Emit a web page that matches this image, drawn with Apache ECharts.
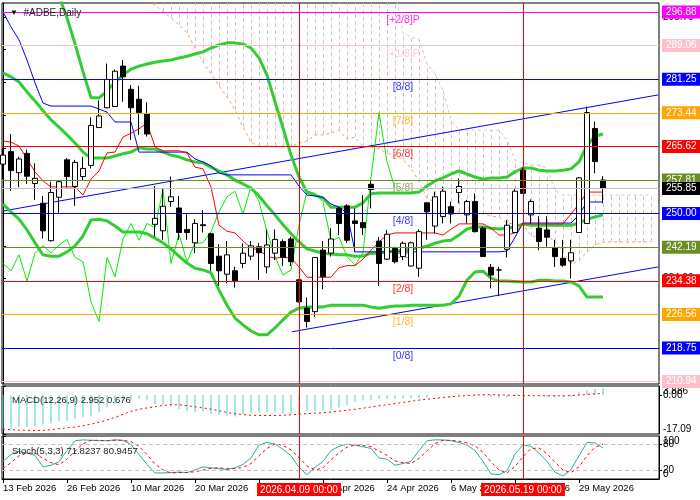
<!DOCTYPE html>
<html>
<head>
<meta charset="utf-8">
<script src="https://cdn.jsdelivr.net/npm/echarts@6/dist/echarts.min.js"></script>
<style>
html,body{margin:0;padding:0;background:#fff}
#chart{width:700px;height:500px}
</style>
</head>
<body>
<div id="chart"></div>
<script>
// daily bars, index 0 = 13 Feb 2026
var opens  = [261.5,264.4,259.5,264.0,257.0,252.4,243.7,253.8,262.5,256.3,258.6,261.2,270.0,274.6,274.9,284.3,278.9,276.6,273.2,247.5,246.0,252.8,251.3,246.3,243.2,247.4,245.3,240.1,235.9,236.7,238.4,240.1,242.3,237.6,240.8,243.5,244.1,234.6,228.0,227.2,241.5,240.8,251.2,251.8,248.3,247.9,256.8,243.6,239.4,241.9,240.0,237.8,237.3,252.5,247.1,249.3,251.6,254.9,249.7,252.8,246.6,237.5,236.9,241.7,245.6,260.1,249.7,246.6,246.2,242.1,239.6,239.0,245.6,247.7,269.8,257.8];
var closes = [263.6,260.0,262.7,258.7,258.2,246.0,254.9,257.4,258.6,261.9,260.5,270.5,272.7,281.2,283.1,281.8,274.6,273.5,268.5,248.9,251.7,253.9,245.6,245.6,247.7,247.2,238.4,236.7,240.4,234.3,240.8,242.5,240.9,242.7,244.0,239.8,238.8,229.5,224.9,239.8,235.3,244.1,247.7,243.8,247.7,246.7,255.6,238.4,245.2,238.8,243.1,243.2,245.8,250.4,253.9,255.2,249.9,256.3,252.8,245.8,240.0,235.7,236.9,247.3,255.2,254.7,252.8,243.5,244.5,240.0,238.0,240.9,258.3,273.5,262.1,255.85];
var lows   = [258.0,255.3,256.1,256.9,253.2,244.2,243.5,250.2,256.1,251.8,257.7,260.5,269.9,274.5,274.8,276.0,267.1,268.3,267.9,244.6,243.9,251.6,243.9,243.9,240.8,245.6,236.7,233.2,233.8,232.8,237.3,239.2,234.6,236.1,239.2,237.8,237.8,229.3,223.5,226.0,232.4,240.0,245.0,243.2,241.1,245.0,251.2,233.1,239.2,238.4,239.2,237.7,235.3,243.9,245.4,247.7,247.7,252.4,247.7,245.6,239.9,232.6,230.8,239.8,245.5,254.6,247.7,241.5,242.3,237.6,237.6,234.9,245.5,247.7,259.4,252.4];
var highs  = [265.2,268.5,263.2,264.9,261.7,254.1,257.4,257.6,262.9,262.5,263.2,272.4,276.3,284.9,283.5,285.7,279.9,279.7,275.9,256.4,255.9,258.6,254.1,250.1,248.7,250.8,245.5,242.9,243.6,237.6,243.1,243.6,243.2,246.3,246.3,244.0,244.6,234.8,230.5,239.9,243.6,246.6,251.6,252.2,251.2,254.3,257.8,244.6,246.2,242.3,243.5,243.5,246.3,252.6,255.1,256.3,252.8,258.2,253.2,254.7,247.0,238.3,237.6,248.5,255.9,260.7,253.3,249.4,249.4,243.9,243.9,243.9,258.5,274.9,271.4,258.7];

// Bollinger bands
var bbUpper = [null,null,null,null,null,null,306.0,300.5,295.5,289.5,283.0,277.0,276.9,278.5,280.6,282.2,283.6,284.3,284.8,285.2,285.5,285.7,286.2,286.6,287.1,287.6,288.5,289.2,289.7,289.7,289.4,288.5,286.2,282.2,276.0,269.9,263.6,258.5,255.0,254.3,253.6,251.5,251.5,251.5,251.5,252.5,254.6,254.8,254.8,254.8,254.8,254.8,255.0,256.4,257.6,258.3,259.2,259.9,259.2,258.5,258.0,258.3,258.3,258.5,259.7,260.6,260.6,260.1,259.9,259.9,260.1,260.4,262.0,265.9,268.0,268.5];
var bbMiddle = [282.7,281.8,280.6,278.3,276.2,273.9,271.8,270.1,268.3,266.4,264.3,262.9,262.9,262.9,263.4,263.9,264.3,265.3,265.0,265.0,264.3,263.6,263.2,262.5,262.0,261.8,260.8,259.9,259.0,257.8,256.9,255.9,254.1,251.8,249.7,247.4,245.3,243.4,241.8,241.3,240.8,240.6,240.4,240.4,240.1,240.1,240.8,240.8,241.1,241.3,241.5,241.8,242.0,242.4,243.1,243.6,243.8,245.0,246.4,246.9,246.9,246.6,246.4,246.6,246.9,247.6,247.3,247.3,247.3,247.3,247.3,247.3,247.8,248.7,249.2,249.7];
var bbLower = [252.2,250.4,248.7,246.2,243.2,240.4,240.1,240.1,241.1,242.5,244.8,248.5,248.7,248.3,247.1,245.7,245.7,245.7,245.3,244.3,243.2,241.8,240.1,238.5,237.3,236.9,236.2,232.2,228.7,225.7,224.1,222.7,221.8,221.8,223.4,225.3,227.1,228.0,228.3,228.3,228.3,228.7,228.7,228.7,228.7,228.7,228.3,228.0,228.3,228.5,228.5,228.7,228.7,228.7,228.7,228.7,229.0,230.8,234.5,236.4,236.6,235.0,234.3,234.3,234.2,234.1,234.1,234.5,234.5,234.3,234.3,234.1,233.2,230.6,230.6,230.6];

// Ichimoku
var tenkan = [266.9,266.6,265.7,262.7,259.7,257.6,256.2,256.2,256.2,256.2,254.3,258.0,259.9,264.1,264.3,267.8,268.7,269.7,271.1,265.5,264.6,264.6,264.6,264.1,260.8,260.4,256.2,247.3,245.9,245.5,243.6,242.0,241.5,240.1,239.6,239.9,239.6,237.6,235.2,235.2,235.2,235.2,237.4,237.9,237.9,239.4,241.5,243.4,245.0,245.5,245.5,245.5,245.5,245.5,245.5,245.0,246.4,247.6,247.6,247.6,247.6,246.6,245.0,245.0,245.5,247.6,247.6,247.6,247.6,247.6,247.6,249.9,252.2,255.0,255.0,255.0];
var kijun = [296.9,293.4,290.4,285.7,280.4,275.7,275.0,275.0,275.0,275.0,275.0,275.0,274.3,273.6,271.3,271.3,271.3,264.3,264.3,264.3,264.3,264.3,264.3,264.3,262.7,262.0,261.1,259.4,259.0,259.0,259.0,259.0,259.0,259.0,259.0,259.0,259.0,256.4,254.3,254.1,253.8,252.2,251.5,250.1,241.1,241.1,241.1,241.1,241.1,241.1,241.1,241.1,241.1,241.1,241.1,241.1,241.1,241.1,241.1,241.1,241.1,241.1,241.1,241.3,244.5,247.8,247.8,247.8,247.8,247.8,247.8,247.8,249.7,252.7,252.7,252.7];
var senkouA = [null,null,null,null,null,null,null,null,null,null,null,null,null,null,null,null,null,null,299.5,298.5,296.9,295.5,293.9,292.0,288.5,285.2,282.5,279.7,277.1,274.1,270.1,266.6,265.7,265.7,265.7,265.5,265.5,266.4,266.9,268.3,268.3,268.7,269.4,267.3,267.8,265.5,265.5,265.0,264.1,263.4,262.5,260.6,257.4,253.6,252.7,252.0,251.1,250.4,250.1,250.1,249.9,249.4,249.2,247.8,247.6,247.6,244.8,244.6,244.6,243.6,241.1,238.3,239.0,241.1,242.7,243.4,243.4,243.4,243.4,243.4,243.4,243.4];
var senkouB = [null,null,null,null,null,null,null,null,null,null,null,null,null,null,null,null,null,null,null,302,302,302,302,302,302,302,302,302,302,302,302,302,302,302,302,302,302,302,302,302,302,302,302,302,302,302,302,302,302,302,292.0,291.1,290.4,284.8,282.5,278.5,271.8,269.4,269.4,269.4,269.4,269.4,269.4,267.1,262.5,261.8,261.3,261.3,260.6,255.5,254.3,254.3,254.3,254.3,254.3,254.3,254.3,254.3,254.3,254.3,254.3,254.3];
var chikouShift = 26;

// MACD(12,26,9)
var macdMain = [-14.9,-14.9,-13.9,-13.9,-13.5,-13.0,-12.4,-11.6,-11.3,-10.5,-9.8,-9.4,-7.6,-5.4,-4.0,-2.5,-2.2,-1.9,-2.1,-4.0,-4.4,-5.1,-6.2,-7.2,-7.6,-7.3,-8.1,-8.7,-9.1,-9.4,-8.4,-8.1,-7.6,-7.6,-7.6,-8.1,-8.4,-8.7,-7.0,-7.1,-6.9,-6.5,-5.5,-4.5,-3.0,-2.5,-2.3,-1.9,-1.9,-1.8,-1.6,-1.4,-1.4,-1.0,-0.4,0.0,0.1,0.3,0.2,-0.3,-0.6,-1.0,-1.2,-1.0,-0.5,-0.2,-0.3,-0.5,-0.7,-1.0,-1.1,-0.8,1.2,2.0,2.6,2.952];
var macdSignal = [-14.9,-15.2,-15.4,-15.5,-15.6,-15.5,-15.2,-14.8,-14.4,-14.0,-13.5,-12.8,-12.0,-11.0,-9.8,-8.5,-7.2,-6.3,-5.7,-5.2,-4.6,-4.3,-4.3,-4.7,-5.2,-5.7,-6.2,-6.9,-7.6,-8.2,-8.6,-8.9,-9.0,-9.0,-9.0,-8.9,-8.7,-8.4,-8.2,-8.0,-7.8,-7.5,-7.1,-6.7,-6.3,-5.8,-5.3,-4.8,-4.3,-3.8,-3.3,-2.8,-2.3,-1.9,-1.5,-1.1,-0.8,-0.5,-0.3,-0.1,0.1,0.1,0.0,-0.1,-0.2,-0.3,-0.3,-0.4,-0.4,-0.4,-0.4,-0.3,-0.1,0.2,0.45,0.676];
var macdRange = [-17.09, 3.886];
var macdRangeLabels = ['-17.09', '3.886'];
var macdZero = [0];

// Stochastic(5,3,3)
var stochK = [41,57,64,60,55,28,32,40,66,89,91,90,89,89,91,90,80,57,34,14,14,15,16,15,21,28,26,24,22,26,34,49,79,85,81,69,54,27,10,27,41,66,76,81,79,75,71,49,46,32,36,41,66,89,91,91,89,85,79,66,41,12,10,19,58,79,76,60,41,16,7,22,54,85,84,71.8237];
var stochD = [25,38,54,60,60,48,38,33,46,65,82,90,90,89,90,90,87,76,57,35,21,14,15,15,17,21,25,26,24,24,27,36,54,71,82,78,68,50,30,21,26,45,61,74,79,78,75,65,55,42,38,36,48,65,82,90,90,88,84,77,62,40,21,14,29,52,71,72,59,39,21,15,28,54,74,80.9457];
var stochLevels = [20, 80];
var stochRange = [0, 100];

// Murrey Math levels
var murreyLevels = [296.88,289.06,281.25,273.44,265.62,257.81,250.00,242.19,234.38,226.56,218.75,210.94];
var murreyNames = ['[+2/8]P','[+1/8]P','[8/8]','[7/8]','[6/8]','[5/8]','[4/8]','[3/8]','[2/8]','[1/8]','[0/8]','[-1/8]P'];
var priceTicks = [234.90,242.50,250.10,257.70,265.30,272.90,280.50,288.10,295.70];
var lastPrice = 255.85;

// trend lines: [bar, price]
var upperTrend = [[0, 250.6], [81.9, 277.6]];
var lowerTrend = [[36.1, 222.5], [81.9, 237.6]];

// time axis
var tickBars = [0, 8, 16, 24, 32, 40, 48, 56, 64, 72];
var tickLabels = ['13 Feb 2026','26 Feb 2026','10 Mar 2026','20 Mar 2026','1 Apr 2026','14 Apr 2026','24 Apr 2026','6 May 2026','18 May 2026','29 May 2026'];
var markBars = [37, 65];
var markLabels = ['2026.04.09 00:00', '2026.05.19 00:00'];
var murreyLabelBar = 50;

var murreyColors = ['#ff00ff','#ffc0cb','#0000ff','#ffa500','#ff0000','#6b8e23','#0000ff','#6b8e23','#ff0000','#ffa500','#0000ff','#ffc0cb'];
var FONT = '"Liberation Sans", Arial, sans-serif';

function pairs(arr) {
    return arr.map(function (v, i) { return [i, v]; });
}

var candleData = opens.map(function (o, i) { return [i, o, closes[i], lows[i], highs[i]]; });
var chikouData = closes.slice(chikouShift).map(function (v, i) { return [i, v]; });
var hatchData = [];
senkouA.forEach(function (a, i) {
    if (a != null && senkouB[i] != null) hatchData.push([i, a, senkouB[i]]);
});

function renderHatch(params, api) {
    var p1 = api.coord([api.value(0), api.value(1)]);
    var p2 = api.coord([api.value(0), api.value(2)]);
    var top = params.coordSys.y, bottom = params.coordSys.y + params.coordSys.height;
    var y1 = Math.min(Math.max(p1[1], top), bottom);
    var y2 = Math.min(Math.max(p2[1], top), bottom);
    var x = Math.round(p1[0]) + 0.5;
    return {
        type: 'line',
        shape: {x1: x, y1: y1, x2: x, y2: y2},
        style: {stroke: '#d8bfd8', lineWidth: 1, lineDash: [4, 3]}
    };
}

function lineSeries(data, color, width, dash, z) {
    return {
        type: 'line', data: data, xAxisIndex: 0, yAxisIndex: 0,
        showSymbol: false, symbol: 'none', silent: true, z: z || 3,
        lineStyle: {color: color, width: width, type: dash || 'solid'}
    };
}

function vLines(gridIdx, withLabel) {
    return {
        type: 'line', data: [], xAxisIndex: gridIdx, yAxisIndex: gridIdx, z: 6,
        markLine: {
            silent: true, symbol: 'none', animation: false,
            lineStyle: {color: '#ff0000', width: 1, type: 'solid'},
            label: {show: false},
            data: markBars.map(function (b, k) {
                return {
                    xAxis: b,
                    label: withLabel ? {
                        show: true, position: 'start', distance: 4,
                        formatter: markLabels[k], color: '#fff', backgroundColor: '#ff0000',
                        padding: [2, 3, 1, 3], fontSize: 10, fontFamily: FONT
                    } : {show: false}
                };
            })
        }
    };
}

// a right-hand value axis that only prints the given values
function sideAxis(gridIdx, min, max, values, formatter, edge) {
    return {
        gridIndex: gridIdx, type: 'value', position: 'right', min: min, max: max, scale: true,
        splitLine: {show: false},
        axisLine: {show: true, lineStyle: {color: '#000'}},
        axisTick: {show: true, length: 3, customValues: values, lineStyle: {color: '#000'}},
        axisLabel: {
            customValues: values, margin: 4, color: '#000', fontSize: 10,
            showMinLabel: true, showMaxLabel: true, hideOverlap: false,
            verticalAlignMinLabel: edge ? 'bottom' : null,
            verticalAlignMaxLabel: edge ? 'top' : null,
            formatter: formatter
        }
    };
}

var xBase = {type: 'value', min: -0.125, max: 82, splitLine: {show: false}};

var option = {
    animation: false,
    backgroundColor: '#fff',
    textStyle: {fontFamily: FONT},
    title: [
        {text: '{a|▼}  #ADBE,Daily', left: 5, top: 3, textStyle: {fontSize: 10, fontWeight: 'normal', color: '#222', fontFamily: FONT, rich: {a: {fontSize: 8, color: '#000'}}}},
        {text: 'MACD(12,26,9) 2.952 0.676', left: 7, top: 390, textStyle: {fontSize: 9.5, fontWeight: 'normal', color: '#222', fontFamily: FONT}},
        {text: 'Stoch(5,3,3) 71.8237 80.9457', left: 7, top: 441, textStyle: {fontSize: 9.5, fontWeight: 'normal', color: '#222', fontFamily: FONT}}
    ],
    grid: [
        {left: 2, right: 41, top: 3, height: 381, show: true, borderColor: '#000', borderWidth: 1},
        {left: 2, right: 41, top: 386, height: 48, show: true, borderColor: '#000', borderWidth: 1},
        {left: 2, right: 41, top: 436, height: 43, show: true, borderColor: '#000', borderWidth: 1}
    ],
    xAxis: [
        Object.assign({gridIndex: 0, show: false}, xBase),
        Object.assign({gridIndex: 1, show: false}, xBase),
        Object.assign({
            gridIndex: 2,
            axisLine: {show: true, lineStyle: {color: '#000'}},
            axisTick: {show: true, length: 4, customValues: tickBars, lineStyle: {color: '#000'}},
            axisLabel: {
                customValues: tickBars, align: 'left', margin: 4, color: '#000', fontSize: 9.5,
                hideOverlap: false,
                formatter: function (v) {
                    var k = tickBars.indexOf(Math.round(v));
                    return k >= 0 ? tickLabels[k] : '';
                }
            }
        }, xBase)
    ],
    yAxis: [
        sideAxis(0, 210.37, 298.97, priceTicks, function (v) { return v.toFixed(2); }, false),
        sideAxis(1, macdRange[0], macdRange[1], macdRange, function (v) {
            return v === macdRange[0] ? macdRangeLabels[0] : macdRangeLabels[1];
        }, true),
        sideAxis(2, stochRange[0], stochRange[1], stochRange, null, true),
        sideAxis(1, macdRange[0], macdRange[1], macdZero, function (v) { return v.toFixed(2); }, false),
        sideAxis(2, stochRange[0], stochRange[1], stochLevels, null, false)
    ],
    series: [
        // Murrey lines with price boxes
        {
            type: 'line', data: [], xAxisIndex: 0, yAxisIndex: 0, z: 1,
            markLine: {
                silent: true, symbol: 'none', animation: false,
                data: murreyLevels.map(function (v, k) {
                    return {
                        yAxis: v,
                        lineStyle: {color: murreyColors[k], width: 1, type: 'solid'},
                        label: {
                            show: true, position: 'end', distance: 3, formatter: v.toFixed(2),
                            color: '#fff', backgroundColor: murreyColors[k],
                            padding: [2, 5, 1, 4], fontSize: 10, fontFamily: FONT
                        }
                    };
                })
            }
        },
        // Murrey level names
        {
            type: 'scatter', xAxisIndex: 0, yAxisIndex: 0, z: 2, silent: true,
            symbolSize: 1, itemStyle: {color: 'rgba(0,0,0,0)'},
            data: murreyLevels.slice(0, 11).map(function (v, k) {
                return {
                    value: [murreyLabelBar, v],
                    label: {show: true, position: 'bottom', distance: 2, formatter: murreyNames[k],
                        color: murreyColors[k], fontSize: 10.5, fontFamily: FONT}
                };
            })
        },
        // current price line
        {
            type: 'line', data: [], xAxisIndex: 0, yAxisIndex: 0, z: 2,
            markLine: {
                silent: true, symbol: 'none', animation: false,
                data: [{
                    yAxis: lastPrice,
                    lineStyle: {color: '#c0c0c0', width: 1, type: 'solid'},
                    label: {show: true, position: 'end', distance: 3, formatter: lastPrice.toFixed(2),
                        color: '#fff', backgroundColor: '#000', padding: [2, 5, 1, 4], fontSize: 10, fontFamily: FONT}
                }]
            }
        },
        // cloud hatch
        {
            type: 'custom', xAxisIndex: 0, yAxisIndex: 0, z: 1, silent: true,
            data: hatchData, encode: {x: 0, y: [1, 2]}, renderItem: renderHatch
        },
        lineSeries(pairs(senkouA), '#f4a460', 1, [3, 3], 2),
        lineSeries(pairs(senkouB), '#d8bfd8', 1, [3, 3], 2),
        lineSeries(upperTrend, '#0000ff', 1, 'solid', 3),
        lineSeries(lowerTrend, '#0000ff', 1, 'solid', 3),
        lineSeries(pairs(bbUpper), '#32cd32', 3, 'solid', 3),
        lineSeries(pairs(bbMiddle), '#32cd32', 3, 'solid', 3),
        lineSeries(pairs(bbLower), '#32cd32', 3, 'solid', 3),
        lineSeries(chikouData, '#00ee00', 1, 'solid', 3),
        lineSeries(pairs(kijun), '#0000ff', 1, 'solid', 3),
        lineSeries(pairs(tenkan), '#ff0000', 1, 'solid', 3),
        {
            type: 'candlestick', xAxisIndex: 0, yAxisIndex: 0, z: 4, silent: true,
            barWidth: 5, data: candleData,
            itemStyle: {color: '#fff', color0: '#000', borderColor: '#000', borderColor0: '#000', borderWidth: 1}
        },
        vLines(0, false),
        // MACD
        {
            type: 'bar', xAxisIndex: 1, yAxisIndex: 1, barWidth: 1, silent: true,
            data: pairs(macdMain), itemStyle: {color: '#48d1cc'}
        },
        {
            type: 'line', xAxisIndex: 1, yAxisIndex: 1, data: pairs(macdSignal), showSymbol: false, silent: true,
            lineStyle: {color: '#ff0000', width: 1, type: [2, 3]}
        },
        vLines(1, false),
        // Stochastic
        {
            type: 'line', xAxisIndex: 2, yAxisIndex: 2, data: pairs(stochK), showSymbol: false, silent: true,
            lineStyle: {color: '#20b2aa', width: 1},
            markLine: {
                silent: true, symbol: 'none', animation: false, label: {show: false},
                lineStyle: {color: '#c0c0c0', width: 1, type: [4, 3]},
                data: stochLevels.map(function (v) { return {yAxis: v}; })
            }
        },
        {
            type: 'line', xAxisIndex: 2, yAxisIndex: 2, data: pairs(stochD), showSymbol: false, silent: true,
            lineStyle: {color: '#ff0000', width: 1, type: [3, 3]}
        },
        vLines(2, true)
    ]
};

var chart = echarts.init(document.getElementById('chart'));
chart.setOption(option);
</script>
</body>
</html>
